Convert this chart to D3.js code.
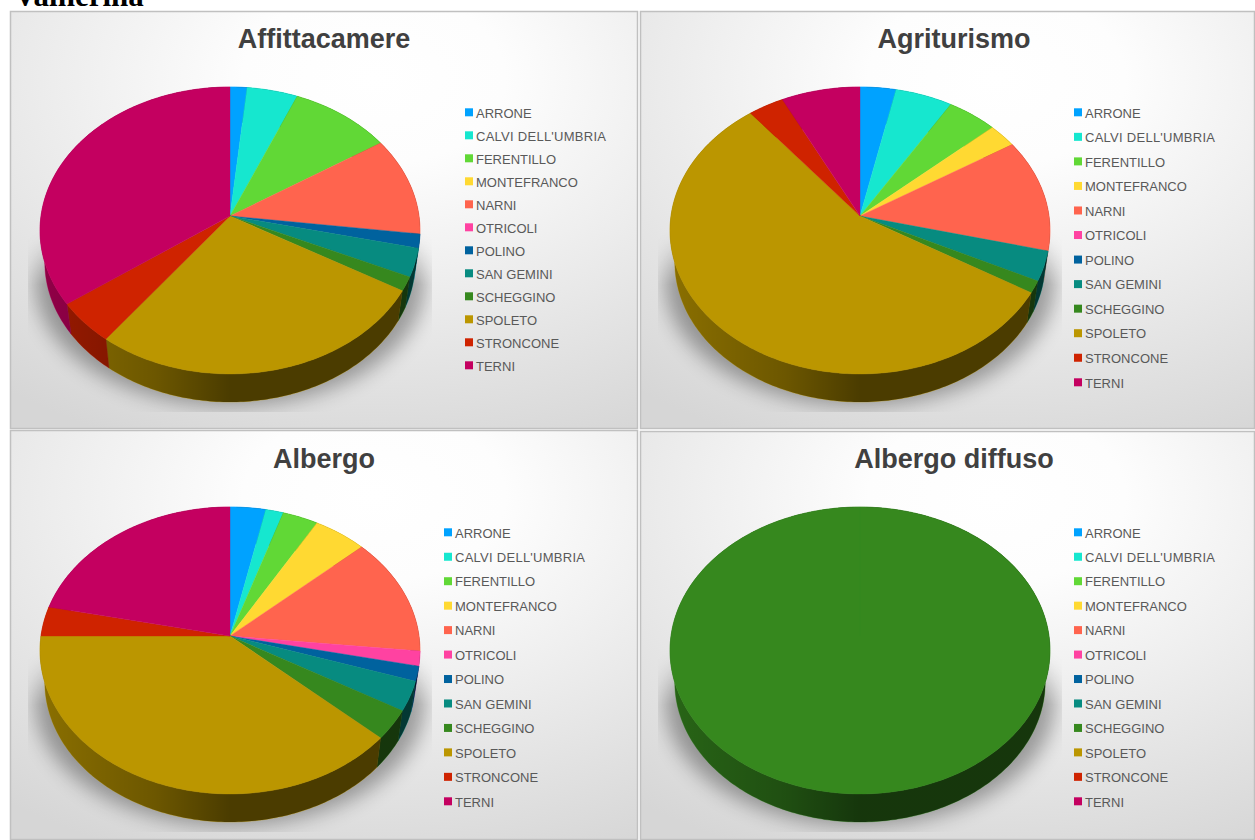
<!DOCTYPE html>
<html>
<head>
<meta charset="utf-8">
<script src="https://cdn.jsdelivr.net/npm/d3@7"></script>
<style>
  html, body { margin: 0; padding: 0; background: #fff; overflow: hidden; }
  text { font-family: "Liberation Sans", Arial, sans-serif; }
</style>
</head>
<body>
<div id="display"></div>
<script>
const comuni = ["ARRONE", "CALVI DELL'UMBRIA", "FERENTILLO", "MONTEFRANCO", "NARNI", "OTRICOLI",
                "POLINO", "SAN GEMINI", "SCHEGGINO", "SPOLETO", "STRONCONE", "TERNI"]
const colori = ["#00a2ff", "#16e7cf", "#61d836", "#ffd932", "#ff644e", "#ff42a1",
                "#00629e", "#078b80", "#36881e", "#bb9600", "#cf2300", "#c40060"]

const titoli = ["Affittacamere", "Agriturismo", "Albergo", "Albergo diffuso"]
const affittacamere = [1, 3, 6, 0, 7, 0, 1, 2, 1, 17, 3, 22]
const agriturismo = [5, 8, 7, 4, 19, 0, 0, 5, 2, 83, 5, 11]
const albergo = [2, 1, 2, 3, 8, 1, 1, 2, 2, 23, 2, 13]
const albergoDiffuso = [0, 0, 0, 0, 0, 0, 0, 0, 1, 0, 0, 0]
const valori = [affittacamere, agriturismo, albergo, albergoDiffuso]

// panel boxes and legend placement, measured on the picture
const layout = [
    {x: 10, y: 11, w: 628, h: 418, cx: 230, cy: 216, tx: 324, ty: 48, lx: 465, ly0: 113, ly1: 366},
    {x: 640, y: 11, w: 615, h: 418, cx: 860, cy: 216, tx: 954, ty: 48, lx: 1074, ly0: 113, ly1: 383},
    {x: 10, y: 430, w: 628, h: 410, cx: 230, cy: 636, tx: 324, ty: 468, lx: 444, ly0: 533, ly1: 802},
    {x: 640, y: 431, w: 615, h: 409, cx: 860, cy: 636, tx: 954, ty: 468, lx: 1074, ly0: 533, ly1: 802}
]

// tilted disc: the apex does not sit in the middle of the ellipse because of the perspective
const R = 189, tilt = 142, persp = 0.101
const wallX = 0.975, wallY = 32
const rimX = t => R * Math.sin(t) / (1 + persp * Math.cos(t))
const rimY = t => -tilt * Math.cos(t) / (1 + persp * Math.cos(t))

const line = d3.line().x(d => d[0]).y(d => d[1])
const pie = d3.pie().sort(null).startAngle(0).endAngle(2 * Math.PI)

const svg = d3.select('#display').append('svg')
    .attr('width', 1255)
    .attr('height', 840)

const defs = svg.append('defs')

const bg = defs.append('radialGradient').attr('id', 'sfondo')
    .attr('cx', 0.58).attr('cy', 0.16).attr('r', 0.95)
bg.append('stop').attr('offset', 0).attr('stop-color', '#ffffff')
bg.append('stop').attr('offset', 0.22).attr('stop-color', '#fdfdfd')
bg.append('stop').attr('offset', 1).attr('stop-color', '#d6d6d6')

const shade = defs.append('linearGradient').attr('id', 'ombraLato')
    .attr('gradientUnits', 'userSpaceOnUse')
    .attr('x1', -R).attr('x2', R).attr('y1', 0).attr('y2', 0)
shade.append('stop').attr('offset', 0).attr('stop-color', '#000').attr('stop-opacity', 0.26)
shade.append('stop').attr('offset', 0.3).attr('stop-color', '#000').attr('stop-opacity', 0.42)
shade.append('stop').attr('offset', 0.5).attr('stop-color', '#000').attr('stop-opacity', 0.6)
shade.append('stop').attr('offset', 1).attr('stop-color', '#000').attr('stop-opacity', 0.6)

defs.append('filter').attr('id', 'sfoca')
    .attr('x', -0.2).attr('y', -0.2).attr('width', 1.4).attr('height', 1.4)
    .append('feGaussianBlur').attr('stdDeviation', 10)

const fade = defs.append('linearGradient').attr('id', 'sfuma')
    .attr('x1', 0).attr('x2', 0).attr('y1', 0).attr('y2', 1)
fade.append('stop').attr('offset', 0).attr('stop-color', '#fff').attr('stop-opacity', 0)
fade.append('stop').attr('offset', 0.3).attr('stop-color', '#fff').attr('stop-opacity', 1)
defs.append('mask').attr('id', 'mascheraOmbra')
    .attr('maskUnits', 'userSpaceOnUse')
    .attr('x', -202).attr('y', 14).attr('width', 404).attr('height', 182)
    .append('rect')
    .attr('x', -202).attr('y', 14).attr('width', 404).attr('height', 182)
    .attr('fill', 'url(#sfuma)')

svg.append('text')
    .attr('x', 14)
    .attr('y', 6)
    .style('font-family', '"Liberation Serif", serif')
    .style('font-weight', 'bold')
    .style('font-size', '31px')
    .attr('fill', '#000')
    .text('Valnerina')

layout.forEach((p, i) => {
    svg.append('rect')
        .attr('x', p.x + 0.5).attr('y', p.y + 0.5)
        .attr('width', p.w - 1).attr('height', p.h - 1)
        .attr('fill', 'url(#sfondo)')
        .attr('stroke', '#c0c0c0')
        .attr('stroke-width', 1.5)

    svg.append('text')
        .attr('x', p.tx)
        .attr('y', p.ty)
        .attr('text-anchor', 'middle')
        .style('font-size', '27px')
        .style('font-weight', 'bold')
        .attr('fill', '#404040')
        .text(titoli[i])

    const g = svg.append('g').attr('transform', 'translate(' + p.cx + ',' + p.cy + ')')

    // soft shadow below the disc, cut off by its box like in the original
    g.append('g').attr('mask', 'url(#mascheraOmbra)')
        .append('ellipse')
        .attr('cx', 0).attr('cy', 66)
        .attr('rx', R + 6).attr('ry', 124)
        .attr('fill', '#000')
        .attr('opacity', 0.34)
        .attr('filter', 'url(#sfoca)')

    const arcs = pie(valori[i]).filter(d => d.value > 0)
    const steps = d => Math.max(2, Math.ceil((d.endAngle - d.startAngle) * 60))
    const angles = d => d3.range(steps(d) + 1).map(k => d.startAngle + (d.endAngle - d.startAngle) * k / steps(d))

    const wall = d => {
        const a = angles(d)
        const top = a.map(t => [rimX(t), rimY(t)])
        const low = a.map(t => [rimX(t) * wallX, rimY(t) * wallX + wallY]).reverse()
        return line(top.concat(low)) + 'Z'
    }

    g.selectAll('.lato').data(arcs).enter().append('path')
        .attr('class', 'lato')
        .attr('d', wall)
        .attr('fill', d => colori[d.index])
        .attr('stroke', d => colori[d.index])
        .attr('stroke-width', 0.4)
    g.selectAll('.latoOmbra').data(arcs).enter().append('path')
        .attr('class', 'latoOmbra')
        .attr('d', wall)
        .attr('fill', 'url(#ombraLato)')

    g.selectAll('.fetta').data(arcs).enter().append('path')
        .attr('class', 'fetta')
        .attr('d', d => line([[0, 0]].concat(angles(d).map(t => [rimX(t), rimY(t)]))) + 'Z')
        .attr('fill', d => colori[d.index])
        .attr('stroke', d => colori[d.index])
        .attr('stroke-width', 0.4)

    const yLegend = d3.scalePoint().domain(comuni).range([p.ly0, p.ly1])
    const voci = svg.append('g').selectAll('g').data(comuni).enter().append('g')
        .attr('transform', d => 'translate(' + p.lx + ',' + yLegend(d) + ')')
    voci.append('rect')
        .attr('x', 0).attr('y', -4.7)
        .attr('width', 8).attr('height', 8)
        .attr('fill', (d, k) => colori[k])
    voci.append('text')
        .attr('x', 11)
        .attr('y', 4.5)
        .style('font-size', '13px')
        .attr('fill', '#595959')
        .attr('textLength', d => d.length > 15 ? 130 : null)
        .text(d => d)
})
</script>
</body>
</html>
